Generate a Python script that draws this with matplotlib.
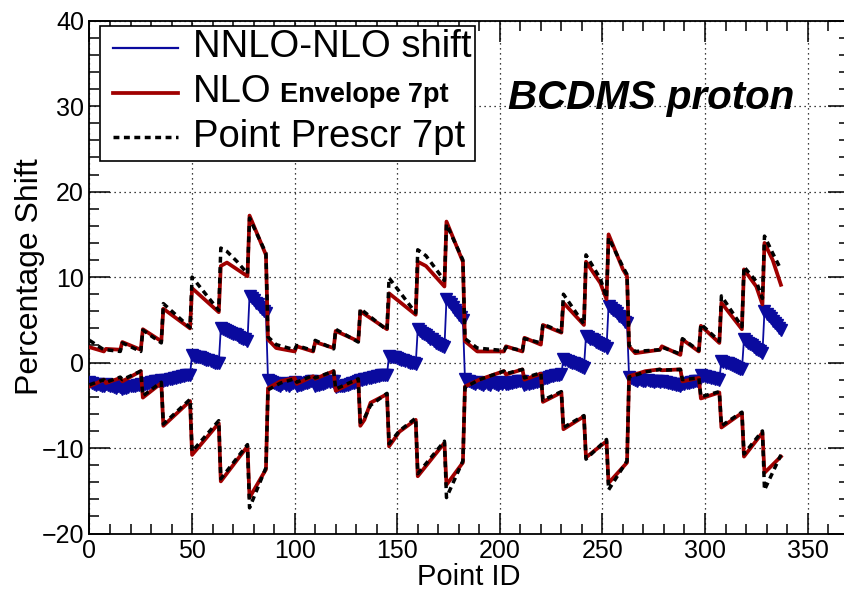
import numpy as np
import matplotlib
matplotlib.use('Agg')
import matplotlib.pyplot as plt
from matplotlib.lines import Line2D
from matplotlib.patches import Rectangle
from matplotlib.ticker import MultipleLocator

plt.rcParams['font.family'] = ['Liberation Sans', 'DejaVu Sans']

### NNLO-NLO shift, one value per point, split by beam energy block
shift_e100 = [-2.3, -2.4, -2.5, -2.6, -2.5, -2.6, -2.7, -2.8,
              -2.5, -2.6, -2.7, -2.8, -2.9, -3.0, -2.8, -2.9,
              -3.1, -3.0, -3.0, -2.9, -2.8, -2.8, -2.7, -2.6, -2.6, -2.5,
              -2.6, -2.5, -2.5, -2.4, -2.3, -2.3, -2.2, -2.2, -2.1, -2.0,
              -2.1, -2.0, -2.0, -1.9, -1.9, -1.8, -1.8, -1.7, -1.7, -1.6, -1.6, -1.5, -1.5, -1.4,
              0.9, 0.8, 0.7, 0.6, 0.6, 0.5, 0.4, 0.3, 0.3, 0.2, 0.1, 0.0, 0.0, -0.1,
              4.0, 3.9, 3.8, 3.7, 3.6, 3.5, 3.4, 3.3, 3.2, 3.0, 2.9, 2.8, 2.7, 2.5,
              7.8, 7.5, 7.3, 7.0, 6.8, 6.5, 6.3, 6.0, 5.8]
shift_e120 = [-2.0, -2.2, -2.3, -2.4, -2.5, -2.6, -2.7, -2.5, -2.4, -2.6, -2.7, -2.5, -2.4, -2.3,
              -2.7, -2.6, -2.6, -2.5, -2.4, -2.4, -2.3, -2.2, -2.2,
              -2.7, -2.6, -2.6, -2.5, -2.5, -2.4, -2.3, -2.3, -2.2, -2.1,
              -2.9, -2.8, -2.8, -2.7, -2.7, -2.6, -2.6, -2.5, -2.4, -2.4, -2.3, -2.2,
              -2.0, -2.0, -1.9, -1.9, -1.8, -1.8, -1.7, -1.7, -1.6, -1.6, -1.5, -1.5, -1.4, -1.4,
              0.8, 0.7, 0.6, 0.6, 0.5, 0.4, 0.3, 0.3, 0.2, 0.1, 0.0, -0.1, -0.1, -0.2,
              3.9, 3.7, 3.5, 3.4, 3.2, 3.0, 2.8, 2.7, 2.5, 2.3, 2.2, 2.0, 1.9, 1.8,
              7.4, 7.1, 6.8, 6.5, 6.2, 5.9, 5.6, 5.3, 5.0]
shift_e200 = [-1.9, -2.1, -2.2, -2.3, -2.4, -2.5, -2.3, -2.4, -2.5, -2.6,
              -2.4, -2.5, -2.6, -2.3, -2.4, -2.5, -2.6, -2.4, -2.5, -2.3,
              -2.5, -2.5, -2.4, -2.4, -2.3, -2.3, -2.2, -2.2, -2.1,
              -2.6, -2.5, -2.5, -2.4, -2.4, -2.3, -2.3, -2.2, -2.2,
              -1.9, -1.8, -1.8, -1.7, -1.6, -1.6, -1.5, -1.5, -1.4, -1.3,
              0.4, 0.3, 0.2, 0.1, 0.0, -0.1, -0.2, -0.3, -0.4, -0.5, -0.6,
              3.1, 3.0, 2.8, 2.7, 2.6, 2.4, 2.3, 2.2, 2.0, 1.9, 1.7,
              6.6, 6.4, 6.2, 6.0, 5.8, 5.5, 5.3, 5.1, 4.8, 4.6]
shift_e280 = [-1.7, -1.8, -1.9, -2.0, -2.1, -1.9, -2.0, -2.1, -2.2, -2.0, -2.1, -2.2, -2.3, -2.1, -2.2, -2.3,
              -2.2, -2.3, -2.3, -2.4, -2.4, -2.5, -2.5, -2.6, -2.6, -2.7,
              -2.5, -2.5, -2.4, -2.4, -2.3, -2.3, -2.2, -2.2, -2.1,
              -1.5, -1.6, -1.6, -1.7, -1.7, -1.8, -1.8, -1.9, -1.9, -2.0,
              0.2, 0.1, 0.0, -0.1, -0.2, -0.3, -0.4, -0.5, -0.6, -0.7, -0.8,
              2.7, 2.5, 2.3, 2.2, 2.0, 1.8, 1.6, 1.5, 1.3, 1.1,
              6.0, 5.7, 5.5, 5.2, 4.9, 4.6, 4.4, 4.1, 3.8]

### upper envelopes (NLO scale envelope and 7pt point prescription), read at corners
up_id = [0, 7, 8, 15, 16, 25, 26, 35, 36, 49, 50, 63, 64, 67, 72, 77, 78, 86,
         87, 91, 100, 101, 109, 110, 119, 120, 131, 132, 145, 146, 159, 160, 164, 173, 174, 182,
         183, 189, 202, 203, 211, 212, 220, 221, 230, 231, 241, 242, 249, 252, 253, 260, 262,
         263, 266, 278, 279, 288, 289, 297, 298, 307, 308, 318, 319, 325, 328, 329, 333, 337]
env_up = [1.8, 1.3, 1.6, 1.5, 2.4, 1.5, 3.9, 2.5, 6.3, 4.0, 8.7, 5.9, 11.3, 11.7, 10.9, 10.1, 17.2, 12.6,
          2.7, 1.7, 1.3, 1.9, 1.3, 2.4, 1.7, 3.7, 2.5, 6.0, 3.9, 8.1, 5.6, 11.8, 11.3, 8.9, 16.5, 11.8,
          2.5, 1.3, 1.3, 1.9, 1.3, 2.9, 2.1, 4.4, 3.5, 7.0, 4.4, 11.8, 9.3, 7.4, 15.0, 10.9, 10.1,
          1.9, 1.1, 1.5, 1.9, 0.9, 2.7, 1.3, 4.3, 2.3, 7.0, 3.9, 10.9, 8.9, 6.8, 14.0, 12.0, 9.1]
pp_up = [2.6, 1.5, 1.5, 1.3, 2.3, 1.3, 3.8, 2.3, 6.9, 4.1, 10.0, 6.1, 13.4, 13.0, 11.8, 10.4, 16.9, 12.8,
         3.0, 2.1, 1.5, 2.0, 1.4, 2.6, 1.6, 3.9, 2.4, 6.3, 3.8, 9.9, 5.8, 13.2, 12.5, 9.6, 16.2, 12.0,
         2.8, 1.7, 1.4, 1.8, 1.4, 2.8, 2.3, 4.5, 3.6, 8.0, 4.5, 12.6, 9.8, 7.6, 14.6, 11.2, 10.3,
         2.0, 1.3, 1.5, 1.8, 1.0, 2.8, 1.4, 4.5, 2.5, 7.8, 4.2, 11.2, 9.5, 7.5, 14.8, 12.8, 10.9]

### lower envelopes
low_id = [0, 7, 8, 15, 16, 25, 26, 35, 36, 49, 50, 63, 64, 77, 78, 86,
          87, 93, 100, 101, 109, 110, 119, 120, 131, 132, 134, 137, 145, 146, 149, 151, 159,
          160, 173, 174, 182,
          183, 190, 202, 203, 211, 212, 220, 221, 230, 231, 241, 242, 252, 253, 262,
          263, 271, 278, 279, 288, 289, 297, 298, 307, 308, 318, 319, 328, 329, 337]
env_low = [-2.8, -2.0, -2.4, -1.8, -2.2, -1.0, -4.1, -2.4, -7.4, -4.5, -10.8, -7.1, -13.9, -9.8, -15.8, -12.5,
           -3.0, -2.2, -1.8, -2.5, -1.6, -1.9, -1.0, -3.3, -2.0, -7.4, -6.7, -4.7, -3.7, -9.8, -8.8, -8.1, -6.7,
           -13.3, -9.4, -14.3, -11.7,
           -2.8, -2.0, -1.0, -1.4, -0.8, -2.0, -1.3, -4.6, -3.5, -7.8, -6.3, -11.1, -9.2, -14.1, -11.7,
           -1.6, -1.0, -0.8, -0.9, -0.8, -2.2, -1.8, -4.2, -3.5, -7.6, -5.9, -11.0, -8.2, -12.9, -11.0]
pp_low = [-2.6, -2.0, -2.3, -1.7, -2.0, -1.0, -3.9, -2.3, -7.2, -4.3, -10.4, -6.8, -13.6, -9.6, -17.0, -12.3,
          -3.2, -2.4, -1.9, -2.3, -1.5, -1.8, -1.0, -3.1, -1.9, -7.0, -6.5, -5.0, -3.6, -9.5, -8.6, -8.0, -6.5,
          -13.0, -9.2, -15.8, -11.5,
          -2.9, -2.0, -1.0, -1.3, -0.8, -1.8, -1.2, -4.4, -3.4, -7.6, -6.2, -11.3, -9.0, -14.9, -11.5,
          -1.7, -1.1, -0.8, -0.9, -0.8, -2.0, -1.8, -4.0, -3.4, -7.4, -5.8, -10.7, -8.0, -14.9, -10.8]

shift = shift_e100 + shift_e120 + shift_e200 + shift_e280
point_id = np.arange(len(shift))

blue = '#0a0a9e'
red = '#a00000'

fig = plt.figure(figsize=(8.45, 5.9), dpi=100)
ax = fig.add_axes([89.5 / 845, 1 - 533.5 / 590, (848.6 - 89.5) / 845, (533.5 - 20.7) / 590])

ax.plot(point_id, shift, color=blue, lw=1.3, marker='v', ms=8, mec=blue, mfc=blue, zorder=3)
ax.plot(up_id, env_up, color=red, lw=2.7, zorder=4)
ax.plot(low_id, env_low, color=red, lw=2.7, zorder=4)
ax.plot(up_id, pp_up, color='black', lw=2.5, dashes=(1.7, 1.3), zorder=5)
ax.plot(low_id, pp_low, color='black', lw=2.5, dashes=(1.7, 1.3), zorder=5)

ax.set_xlim(0, 370)
ax.set_ylim(-20, 40)
ax.xaxis.set_major_locator(MultipleLocator(50))
ax.xaxis.set_minor_locator(MultipleLocator(10))
ax.yaxis.set_major_locator(MultipleLocator(10))
ax.yaxis.set_minor_locator(MultipleLocator(2))
ax.grid(True, which='major', color='black', lw=0.9, ls=(0, (1, 3)))
ax.tick_params(which='both', direction='in', top=True, right=True, width=1.1, labelsize=18, pad=4)
ax.tick_params(which='major', length=15)
ax.tick_params(which='minor', length=7)
for s in ax.spines.values():
    s.set_linewidth(1.3)

fig.text(0.036, 0.5305, 'Percentage Shift', rotation=90, ha='center', va='center', fontsize=23)
fig.text(0.555, 0.022, 'Point ID', ha='center', va='center', fontsize=21)
fig.text(651 / 845, 1 - 98 / 590, 'BCDMS proton', ha='center', va='center',
         fontsize=29, fontweight='bold', fontstyle='italic')

### legend drawn by hand in figure pixels
def fx(px):
    return px / 845

def fy(py):
    return 1 - py / 590

fig.patches.append(Rectangle((fx(100), fy(161)), fx(475) - fx(100), fy(26) - fy(161),
                             transform=fig.transFigure, fill=True, facecolor='white',
                             edgecolor='black', lw=1.2, zorder=10))
fig.lines.append(Line2D([fx(113), fx(178)], [fy(48), fy(48)], transform=fig.transFigure,
                        color=blue, lw=1.6, zorder=11))
fig.lines.append(Line2D([fx(113), fx(178)], [fy(93), fy(93)], transform=fig.transFigure,
                        color=red, lw=2.7, zorder=11))
fig.lines.append(Line2D([fx(113), fx(178)], [fy(137), fy(137)], transform=fig.transFigure,
                        color='black', lw=2.5, dashes=(1.7, 1.3), zorder=11))
fig.text(fx(193), fy(57), 'NNLO-NLO shift', fontsize=27.5, va='baseline', zorder=12)
fig.text(fx(193), fy(102), 'NLO', fontsize=27.5, va='baseline', zorder=12)
fig.text(fx(280), fy(102), 'Envelope 7pt', fontsize=19.5, fontweight='bold', va='baseline', zorder=12)
fig.text(fx(193), fy(147), 'Point Prescr 7pt', fontsize=27.5, va='baseline', zorder=12)

fig.savefig('out.png', dpi=100)
